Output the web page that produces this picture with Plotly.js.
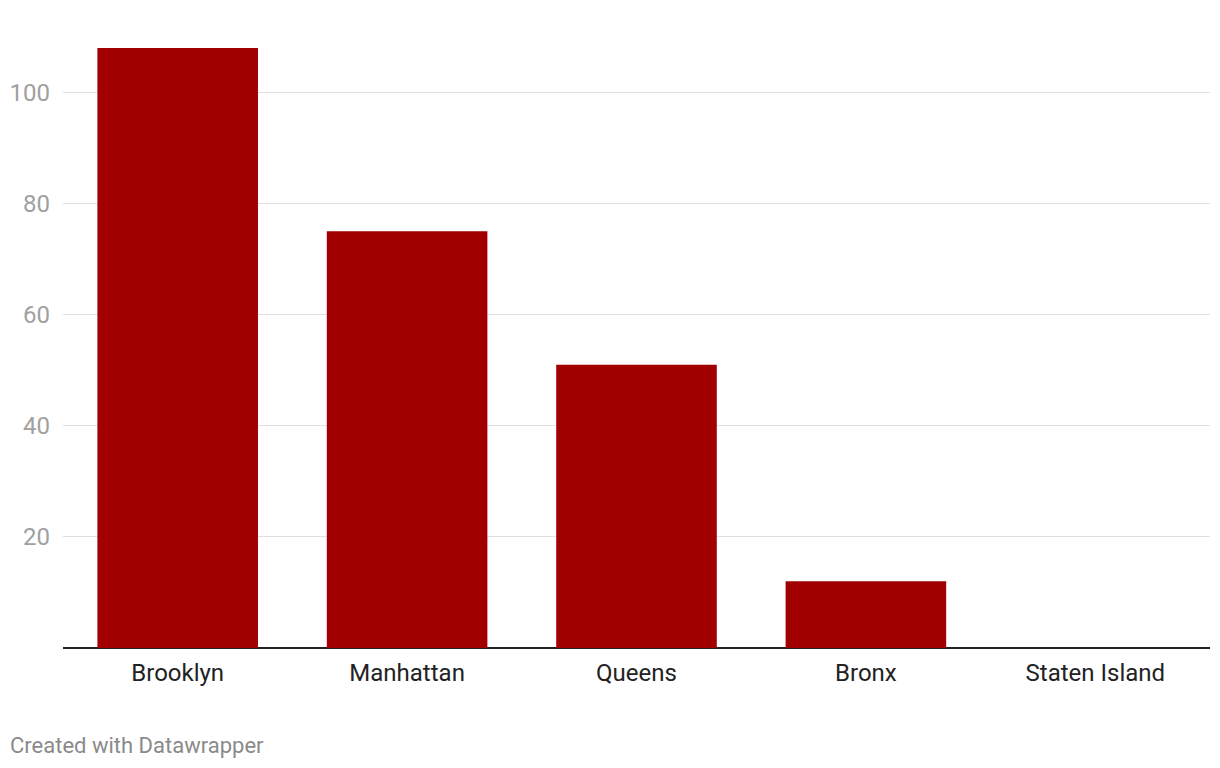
<!DOCTYPE html>
<html><head><meta charset="utf-8">
<script src="https://cdn.plot.ly/plotly-3.0.1.min.js"></script>
<style>html,body{margin:0;padding:0;background:#fff;}#chart{width:1220px;height:768px;}</style>
</head><body><div id="chart"></div>
<script>
const boroughs = ["Brooklyn", "Manhattan", "Queens", "Bronx", "Staten Island"];
const counts = [108, 75, 51, 12, 0];
const yTicks = [20, 40, 60, 80, 100];

Plotly.newPlot("chart", [{
  type: "bar",
  x: boroughs,
  y: counts,
  marker: {color: "#a00000"},
  hoverinfo: "x+y"
}], {
  width: 1220, height: 768,
  margin: {l: 63, r: 10, t: 48, b: 120},
  bargap: 0.3,
  paper_bgcolor: "#fff", plot_bgcolor: "#fff",
  font: {family: "Roboto, sans-serif"},
  xaxis: {
    tickfont: {size: 24, color: "#222"},
    showgrid: false, showline: false, zeroline: false,
    ticks: "", ticklabelstandoff: 8
  },
  yaxis: {
    range: [0, 108],
    tickvals: yTicks,
    tickfont: {size: 24, color: "#a0a0a0"},
    gridcolor: "#e0e0e0", gridwidth: 1,
    zeroline: true, zerolinecolor: "#222", zerolinewidth: 2,
    showline: false, ticks: "", ticklabelstandoff: 12
  },
  annotations: [{
    text: "Created with Datawrapper", xref: "paper", yref: "paper",
    x: 0, y: 0, xanchor: "left", yanchor: "middle",
    xshift: -55, yshift: -97, showarrow: false,
    font: {size: 22, color: "#8a8a8a"}
  }],
  showlegend: false
}, {displayModeBar: false, staticPlot: true});
</script></body></html>
